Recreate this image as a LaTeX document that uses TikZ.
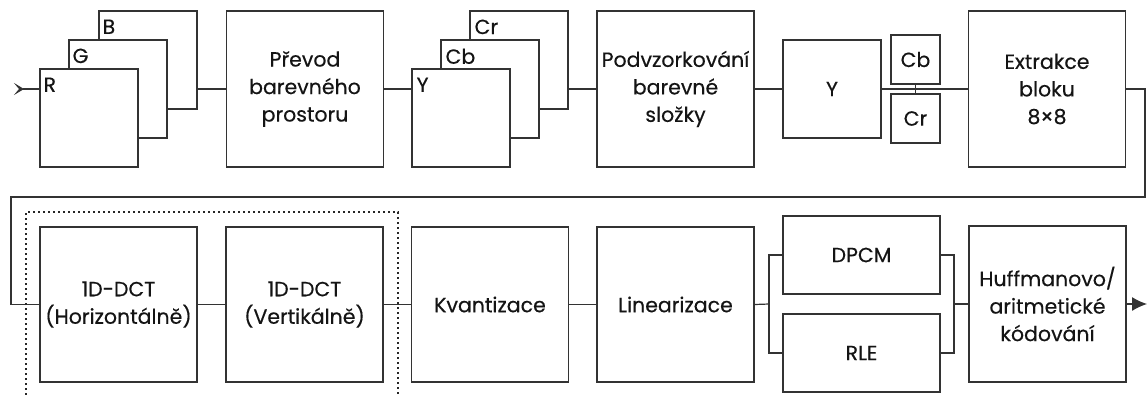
\documentclass[tikz,border=0pt]{standalone}
\usepackage{fontspec}
\setmainfont{Poppins}[FakeBold=0.35]
\usetikzlibrary{arrows.meta,calc}
\begin{document}
\begin{tikzpicture}[x=1pt,y=-1pt,
  every node/.style={font=\fontsize{20.5}{27.5}\selectfont, text=black!92},
  blk/.style={draw=black!80, line width=1.2pt, fill=white, inner sep=0pt, align=center},
  big/.style={blk, minimum width=157pt, minimum height=156pt},
  sq/.style={blk, minimum width=98pt, minimum height=98pt},
  small/.style={blk, minimum width=49pt, minimum height=49pt},
  half/.style={blk, minimum width=157pt, minimum height=78pt},
  lbl/.style={anchor=north west, inner sep=0pt},
  wire/.style={draw=black!80, line width=1.2pt},
  dots/.style={draw=black!85, line width=1.2pt, dash pattern=on 2pt off 3pt}
]
\useasboundingbox (0,0) rectangle (1147,394);

% ---- top row ----
\node[sq] (B) at (148,60) {};
\node[sq] (G) at (118,89) {};
\node[sq] (R) at (89,118) {};
\node[lbl] at ($(B.north west)+(4,9)$) {B};
\node[lbl] at ($(G.north west)+(4,9)$) {G};
\node[lbl] at ($(R.north west)+(4,9)$) {R};

\node[big] (prevod) at (305,89) {Převod\\barevného\\prostoru};

\node[sq] (Cr) at (519,60) {};
\node[sq] (Cb) at (490,89) {};
\node[sq] (Ys) at (461,118) {};
\node[lbl] at ($(Cr.north west)+(5,9)$) {Cr};
\node[lbl] at ($(Cb.north west)+(5,9)$) {Cb};
\node[lbl] at ($(Ys.north west)+(5,9)$) {Y};

\node[big] (podv) at (675.5,89) {Podvzorkování\\barevné\\složky};

\node[sq] (Yb) at (832,89) {Y};
\node[small] (Cbs) at (915.5,59.5) {Cb};
\node[small] (Crs) at (915.5,118.5) {Cr};

\node[big] (extr) at (1047,89) {Extrakce\\bloku\\8×8};

\coordinate (in) at (14,89);
\draw[wire, {Stealth[reversed, length=10pt, width=12pt, inset=5pt]}-] (in) -- (R.west |- in);
\draw[wire] (B.east |- in) -- (prevod.west);
\draw[wire] (prevod.east) -- (Ys.west |- prevod.east);
\draw[wire] (Cr.east |- podv.west) -- (podv.west);
\draw[wire] (podv.east) -- (Yb.west);
\draw[wire] (Yb.east) -- (extr.west);
\draw[wire] (Cbs.south) -- (Crs.north);

% ---- bottom row ----
\node[big, minimum height=155pt] (H) at (118.5,304.5) {1D-DCT\\(Horizontálně)};
\node[big, minimum height=155pt] (V) at (304.5,304.5) {1D-DCT\\(Vertikálně)};
\node[big, minimum height=155pt] (K) at (490,304.5) {Kvantizace};
\node[big, minimum height=155pt] (L) at (675.5,304.5) {Linearizace};
\node[half] (dpcm) at (861.5,255) {DPCM};
\node[half] (rle) at (861.5,353) {RLE};
\node[big, minimum height=156pt] (huff) at (1047.5,304) {Huffmanovo/\\aritmetické\\kódování};

\coordinate (tr) at (1145,197);
\coordinate (tl) at (11,197);
\draw[wire] (extr.east) -| (tr) -- (tl) |- (H.west);

\draw[wire] (H.east) -- (V.west);
\draw[wire] (V.east) -- (K.west);
\draw[wire] (K.east) -- (L.west);

\coordinate (sp) at (769,304);
\coordinate (jn) at (954,304);
\draw[wire] (L.east) -- (sp);
\draw[wire] (dpcm.west) -| (sp) |- (rle.west);
\draw[wire] (dpcm.east) -| (jn) |- (rle.east);
\draw[wire] (jn) -- (huff.west);

\coordinate (out) at (1147,304);
\draw[wire, -{Latex[length=15pt, width=14pt]}] (huff.east) -- (out);

\draw[dots] (26,400) -- (26,212) -- (398,212) -- (398,400);
\end{tikzpicture}
\end{document}
